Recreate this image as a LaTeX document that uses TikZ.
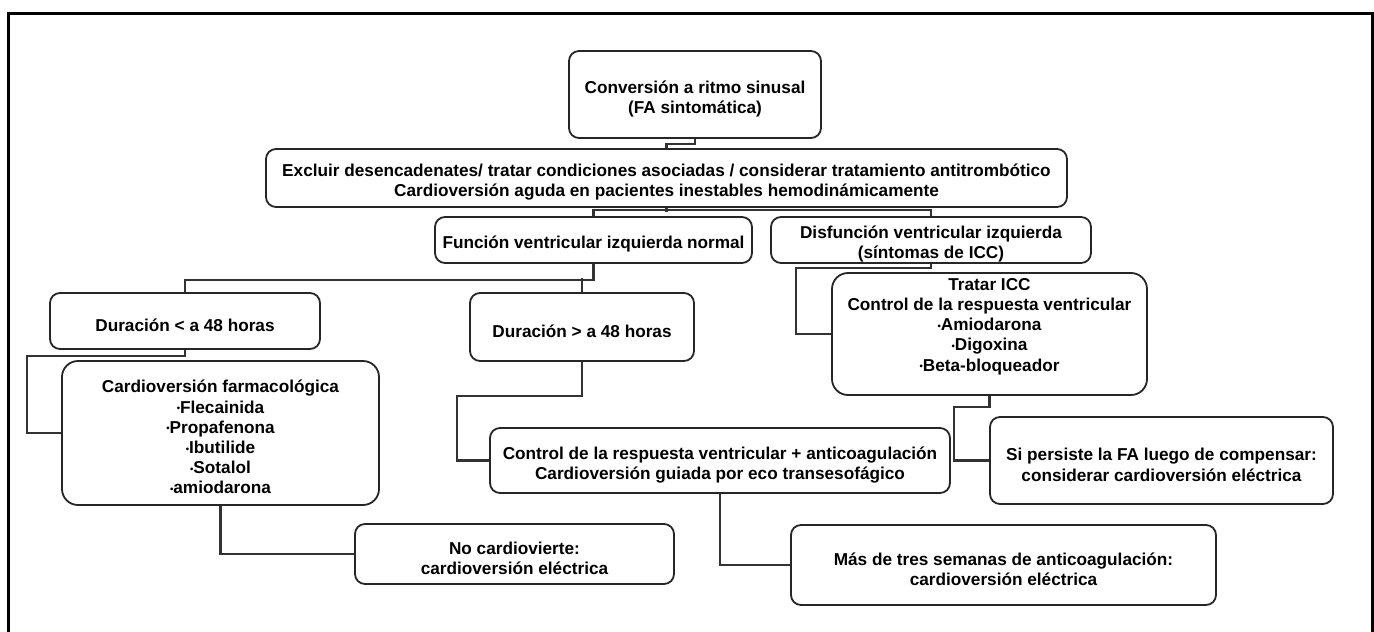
\documentclass[tikz,border=0pt]{standalone}
\usepackage{fontspec}
\setmainfont{Liberation Sans}
\usepackage{graphicx}
\newcommand{\bul}{\raisebox{0.15ex}{\scalebox{0.55}{•}}}
\newcommand{\tp}{\rule{0pt}{21pt}}
\begin{document}
\begin{tikzpicture}[x=1pt,y=-1pt,
  box/.style={draw=black!85, line width=1.8pt, rounded corners=10pt, align=center,
    font=\bfseries\fontsize{17.2}{20.2}\selectfont, inner sep=0pt},
  txt/.style={align=center, font=\bfseries\fontsize{17.2}{20.2}\selectfont, inner sep=0pt},
  conn/.style={draw=black!80, line width=2.2pt}]
\useasboundingbox (0,0) rectangle (1374,632);
% frame
\draw[line width=3pt] (8,632) -- (8,13) -- (1372,13) -- (1372,632);

\node[box, minimum width=252pt, minimum height=87pt] (n1) at (695,94.5)
  {\tp Conversión a ritmo sinusal\\(FA sintomática)};
\node[box, minimum width=801pt, minimum height=58pt] (n2) at (666.5,178)
  {\tp Excluir desencadenates/ tratar condiciones asociadas / considerar tratamiento antitrombótico\\Cardioversión aguda en pacientes inestables hemodinámicamente};
\node[box, minimum width=317pt, minimum height=46pt] (n3) at (593.5,240)
  {\tp Función ventricular izquierda normal};
\node[box, minimum width=320pt, minimum height=46pt] (n4) at (931,240)
  {\tp Disfunción ventricular izquierda\\(síntomas de ICC)};
\node[box, minimum width=270pt, minimum height=56pt] (n5) at (185,321)
  {\tp Duración < a 48 horas};
\node[box, minimum width=224pt, minimum height=68pt] (n6) at (582,327)
  {\tp Duración > a 48 horas};
\node[box, rounded corners=16pt, minimum width=317pt, minimum height=144pt] (n7) at (220.5,433)
  {\tp Cardioversión farmacológica\\\bul Flecainida\\\bul Propafenona\\\bul Ibutilide\\\bul Sotalol\\\bul amiodarona};
\node[box, minimum width=319pt, minimum height=60pt] (n8) at (514.5,554)
  {\tp No cardiovierte:\\cardioversión eléctrica};
\node[box, minimum width=460pt, minimum height=65pt] (n9) at (720,460.5)
  {\tp Control de la respuesta ventricular + anticoagulación\\Cardioversión guiada por eco transesofágico};
\node[box, rounded corners=16pt, minimum width=315pt, minimum height=122pt] (n10) at (989.5,334) {};
\node[txt, anchor=north] (t10) at ([yshift=-6pt]n10.north)
  {Tratar ICC\\Control de la respuesta ventricular\\\bul Amiodarona\\\bul Digoxina\\\bul Beta-bloqueador};
\node[box, minimum width=343pt, minimum height=87pt] (n11) at (1161.5,460.5)
  {\tp Si persiste la FA luego de compensar:\\considerar cardioversión eléctrica};
\node[box, minimum width=425pt, minimum height=80pt] (n12) at (1003.5,565)
  {\tp Más de tres semanas de anticoagulación:\\cardioversión eléctrica};

% connectors
\draw[conn] (n1.south) -- ++(0,5) -| (n2.north);
\draw[conn] (n2.south) -- ++(0,4);
\draw[conn] (n3.north) -- ++(0,-6) -| (n4.north);
\draw[conn] (n3.south) -- ++(0,16) -| (n5.north);
\draw[conn] (n6.north) -- ++(0,-14);
\draw[conn] (n5.south) -- ++(0,6) -| ([xshift=-34pt]n7.west) -- (n7.west);
\draw[conn] (n7.south) |- (n8.west);
\draw[conn] (n6.south) -- ++(0,34) -| ([xshift=-32pt]n9.west) -- (n9.west);
\draw[conn] (n4.south) -- ++(0,4) -| ([xshift=-35pt]n10.west) -- (n10.west);
\draw[conn] (n10.south) -- ++(0,11) -| ([xshift=-35pt]n11.west) -- (n11.west);
\draw[conn] (n9.south) |- (n12.west);
\end{tikzpicture}
\end{document}
